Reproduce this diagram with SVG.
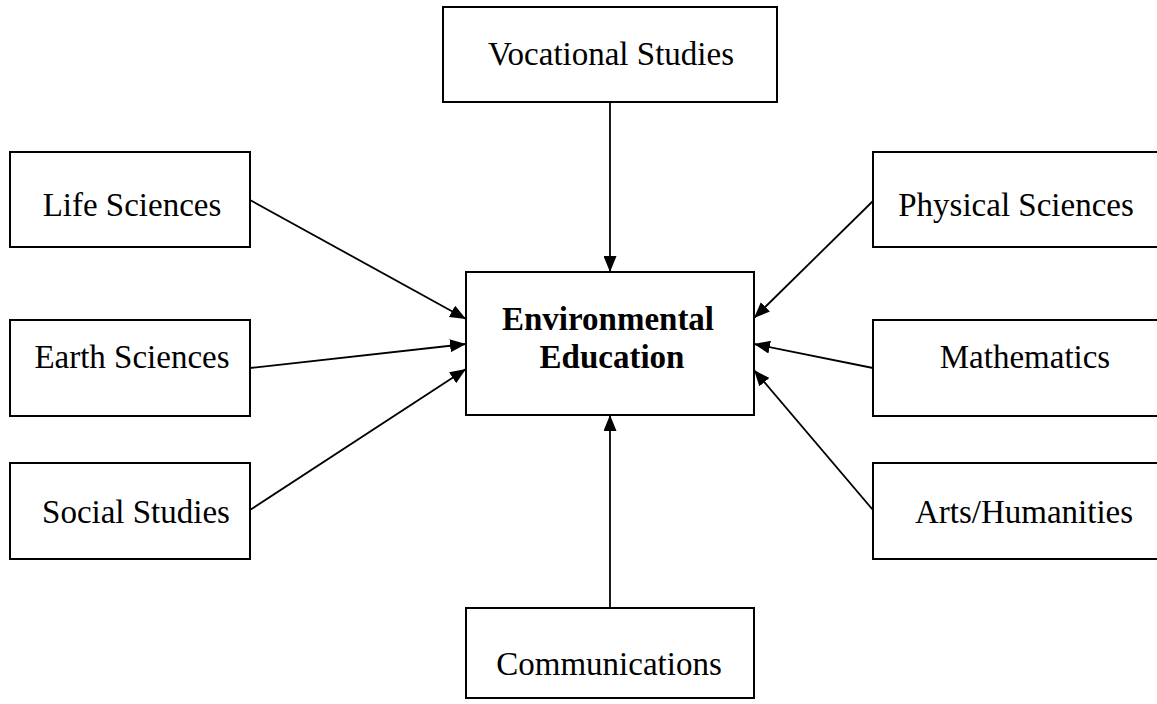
<svg xmlns="http://www.w3.org/2000/svg" width="1157" height="704" viewBox="0 0 1157 704">
<style>
.box{fill:#fff;stroke:#000;stroke-width:2}
.t{font-family:"Liberation Serif","Times New Roman",serif;font-size:33px;fill:#000;text-anchor:middle}
.b{font-weight:bold}
.c{stroke:#000;stroke-width:1.8;fill:none;marker-end:url(#ah)}
</style>
<defs>
<marker id="ah" markerUnits="userSpaceOnUse" markerWidth="17" markerHeight="13" refX="16" refY="6.5" orient="auto" viewBox="0 0 17 13">
<path d="M0,0 L16,6.5 L0,13 z" fill="#000"/>
</marker>
</defs>
<rect width="1157" height="704" fill="#fff"/>
<g id="connectors">
<line class="c" x1="610" y1="102" x2="610" y2="272"/>
<line class="c" x1="610" y1="608" x2="610" y2="415"/>
<line class="c" x1="250" y1="200" x2="466" y2="319"/>
<line class="c" x1="250" y1="368" x2="466" y2="344"/>
<line class="c" x1="250" y1="510" x2="466" y2="369"/>
<line class="c" x1="873" y1="201" x2="754" y2="318"/>
<line class="c" x1="873" y1="368" x2="754" y2="344"/>
<line class="c" x1="873" y1="510" x2="754" y2="370"/>
</g>
<g id="vocational"><rect class="box" x="443" y="7" width="334" height="95"/><text class="t" x="611" y="65">Vocational Studies</text></g>
<g id="life"><rect class="box" x="10" y="152" width="240" height="95"/><text class="t" x="132" y="216">Life Sciences</text></g>
<g id="earth"><rect class="box" x="10" y="320" width="240" height="96"/><text class="t" x="132" y="368">Earth Sciences</text></g>
<g id="social"><rect class="box" x="10" y="463" width="240" height="96"/><text class="t" x="136" y="523">Social Studies</text></g>
<g id="center"><rect class="box" x="466" y="272" width="288" height="143"/><text class="t b" x="608" y="330">Environmental</text><text class="t b" x="612" y="368">Education</text></g>
<g id="physical"><rect class="box" x="873" y="152" width="290" height="95"/><text class="t" x="1016" y="216">Physical Sciences</text></g>
<g id="math"><rect class="box" x="873" y="320" width="290" height="96"/><text class="t" x="1025" y="368">Mathematics</text></g>
<g id="arts"><rect class="box" x="873" y="463" width="290" height="96"/><text class="t" x="1024" y="523">Arts/Humanities</text></g>
<g id="communications"><rect class="box" x="466" y="608" width="288" height="90"/><text class="t" x="609" y="675">Communications</text></g>
</svg>
